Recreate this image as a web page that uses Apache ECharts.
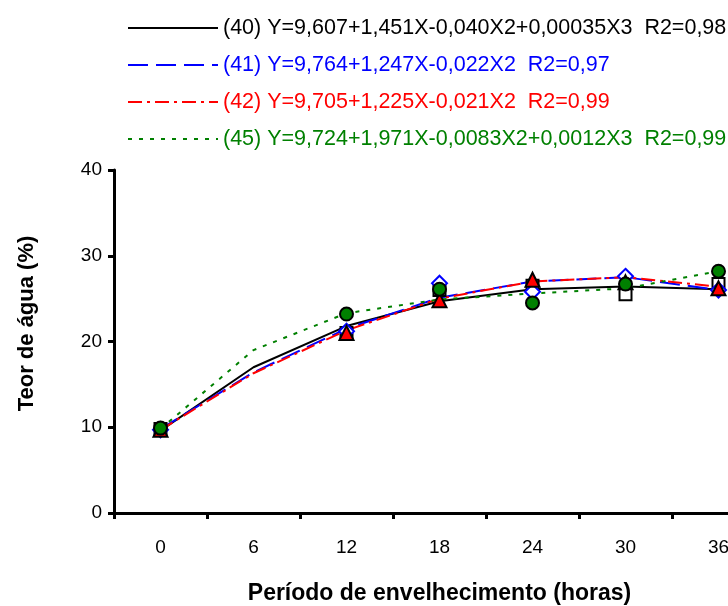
<!DOCTYPE html>
<html>
<head>
<meta charset="utf-8">
<script src="https://cdn.jsdelivr.net/npm/echarts@6/dist/echarts.min.js"></script>
<style>
  html, body { margin: 0; padding: 0; background: #fff; }
  #chart { width: 728px; height: 606px; }
</style>
</head>
<body>
<div id="chart"></div>
<script>
// periodo de envelhecimento (horas)
const horas = ['0', '6', '12', '18', '24', '30', '36']

// nomes das curvas (legenda)
const nomes = [
  '(40) Y=9,607+1,451X-0,040X2+0,00035X3  R2=0,98',
  '(41) Y=9,764+1,247X-0,022X2  R2=0,97',
  '(42) Y=9,705+1,225X-0,021X2  R2=0,99',
  '(45) Y=9,724+1,971X-0,0083X2+0,0012X3  R2=0,99'
]

// curvas ajustadas
const ajuste40 = [9.6, 17.0, 21.8, 24.7, 26.1, 26.4, 26.1]
const ajuste41 = [9.8, 16.4, 21.5, 25.1, 27.0, 27.5, 26.0]
const ajuste42 = [9.7, 16.3, 21.3, 25.0, 27.0, 27.5, 26.4]
const ajuste45 = [9.8, 19.0, 23.3, 24.9, 25.6, 26.2, 28.2]

// valores observados (sem ponto em 6 h)
const obs40 = [9.8, '-', 21.0, 26.0, 26.5, 25.5, 26.7]
const obs41 = [9.7, '-', 21.2, 26.8, 25.8, 27.6, 26.0]
const obs42 = [9.7, '-', 21.0, 24.8, 27.2, 26.9, 26.2]
const obs45 = [9.9, '-', 23.2, 26.1, 24.5, 26.7, 28.2]

const cores = ['#000000', '#0000ff', '#ff0000', '#008000']
const tracos = ['solid', [20, 8], [14, 5, 3, 5], [4, 7]]
const ajustes = [ajuste40, ajuste41, ajuste42, ajuste45]
const observados = [obs40, obs41, obs42, obs45]
const simbolos = [
  { symbol: 'rect', size: 12, fill: '#ffffff', border: '#000000' },
  { symbol: 'diamond', size: 15, fill: '#ffffff', border: '#0000ff' },
  { symbol: 'triangle', size: 14, fill: '#ff0000', border: '#000000' },
  { symbol: 'circle', size: 13, fill: '#008000', border: '#000000' }
]

const fonte = 'Liberation Sans, Arial, sans-serif'
const chart = echarts.init(document.getElementById('chart'))

const series = []
ajustes.forEach((dados, i) => {
  series.push({
    name: nomes[i],
    type: 'line',
    data: dados,
    symbol: 'none',
    smooth: false,
    z: 2,
    lineStyle: { color: cores[i], width: 2, type: tracos[i] },
    itemStyle: { color: cores[i] }
  })
})
observados.forEach((dados, i) => {
  const s = simbolos[i]
  series.push({
    name: 'obs' + i,
    type: 'scatter',
    data: dados,
    symbol: s.symbol,
    symbolSize: s.size,
    z: 3 + i,
    itemStyle: { color: s.fill, borderColor: s.border, borderWidth: 2, opacity: 1 }
  })
})

chart.setOption({
  animation: false,
  textStyle: { fontFamily: fonte },
  legend: {
    data: nomes.map((n, i) => ({ name: n, textStyle: { color: cores[i] } })),
    orient: 'vertical',
    left: 122,
    top: 12,
    itemWidth: 90,
    itemHeight: 14,
    itemGap: 15,
    itemStyle: { opacity: 0 },
    textStyle: { fontSize: 21.5, lineHeight: 22, fontFamily: fonte },
    selectedMode: false
  },
  // o grafico original esta cortado a direita
  grid: { left: 114, right: -37, top: 170, bottom: 93, outerBoundsMode: 'none', containLabel: false },
  xAxis: {
    type: 'category',
    data: horas,
    name: 'Período de envelhecimento (horas)',
    nameLocation: 'middle',
    nameGap: 69,
    nameTextStyle: { fontSize: 23, fontWeight: 'bold', color: '#000', fontFamily: fonte },
    axisLine: { lineStyle: { color: '#000', width: 3 } },
    axisTick: { show: true, length: 6, lineStyle: { color: '#000', width: 3 } },
    axisLabel: { fontSize: 19, color: '#000', margin: 25, fontFamily: fonte },
    splitLine: { show: false }
  },
  yAxis: {
    type: 'value',
    min: 0,
    max: 40,
    interval: 10,
    name: 'Teor de água (%)',
    nameLocation: 'middle',
    nameGap: 76,
    nameTextStyle: { fontSize: 22, fontWeight: 'bold', color: '#000', fontFamily: fonte, padding: [0, 0, 0, 36] },
    axisLine: { show: true, lineStyle: { color: '#000', width: 3 } },
    axisTick: { show: true, length: 6, lineStyle: { color: '#000', width: 3 } },
    axisLabel: { fontSize: 19, color: '#000', margin: 12, fontFamily: fonte },
    splitLine: { show: false }
  },
  series: series
})
</script>
</body>
</html>
